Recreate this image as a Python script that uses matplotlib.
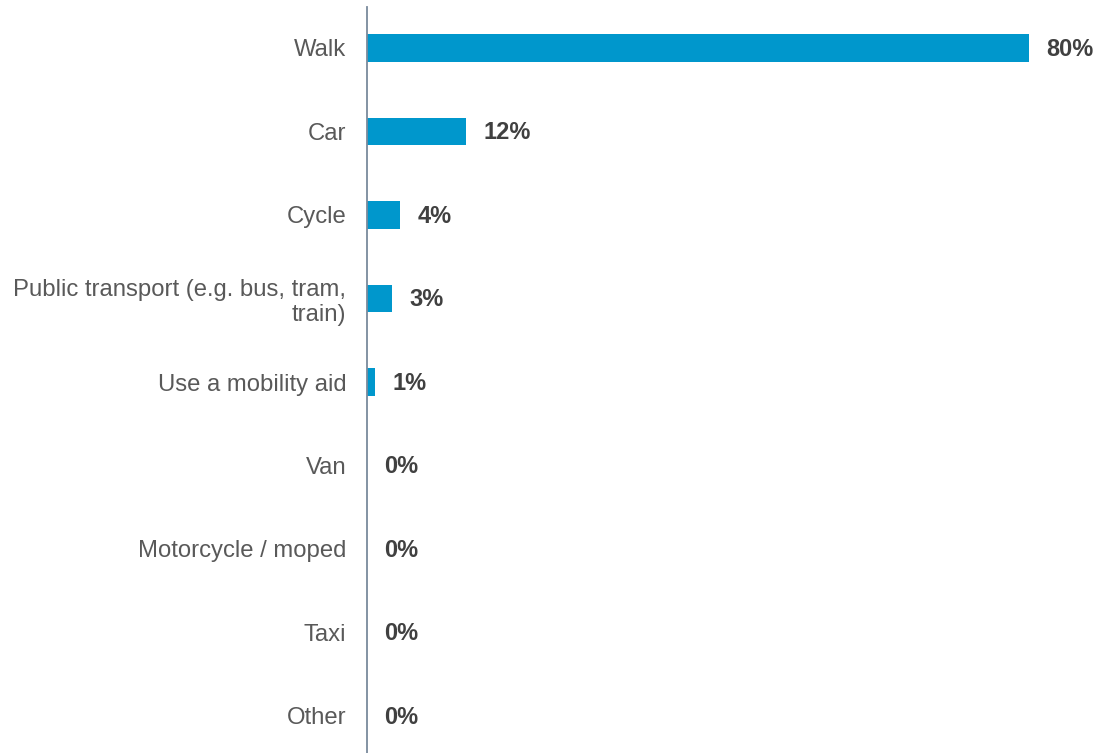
import matplotlib
matplotlib.use("Agg")
import matplotlib.pyplot as plt

categories = ["Walk", "Car", "Cycle", "Public transport (e.g. bus, tram,\ntrain)",
              "Use a mobility aid", "Van", "Motorcycle / moped", "Taxi", "Other"]
values = [80, 12, 4, 3, 1, 0, 0, 0, 0]
value_labels = ["80%", "12%", "4%", "3%", "1%", "0%", "0%", "0%", "0%"]

plt.rcParams['font.family'] = ['Liberation Sans', 'DejaVu Sans']

fig = plt.figure(figsize=(11.01, 7.53), dpi=100)
ax = fig.add_axes([367/1101, -4.75/753, (1029-367)/1101, (757.75-6.25)/753])

y = list(range(len(categories)))
bars = ax.barh(y, values, height=0.335, color="#0097CC")
ax.set_ylim(len(categories)-0.5, -0.5)
ax.set_xlim(0, 80)

ax.set_yticks(y)
ax.set_yticklabels(categories, fontsize=17.2, color="#595959", ha="right")
ax.tick_params(axis='y', length=0, pad=15)
ax.set_xticks([])

for s in ["top", "right", "bottom"]:
    ax.spines[s].set_visible(False)
ax.spines["left"].set_color("#7A8A9C")
ax.spines["left"].set_linewidth(1.3)
ax.spines["left"].set_bounds(len(categories)-0.5, -0.49)

for b, lab in zip(bars, value_labels):
    ax.annotate(lab, xy=(b.get_width(), b.get_y() + b.get_height()/2),
                xytext=(12.5, -1), textcoords="offset points",
                ha="left", va="center", fontsize=17, fontweight="bold",
                color="#404040", annotation_clip=False)

fig.savefig("out.png", dpi=100)
